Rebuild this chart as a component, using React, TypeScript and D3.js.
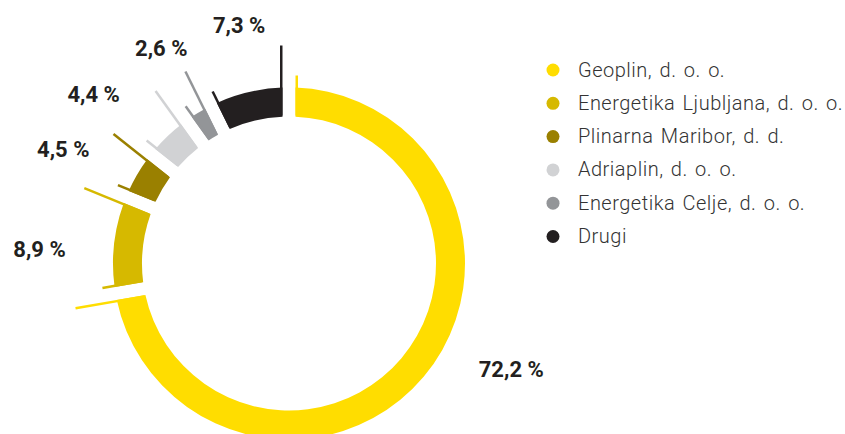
import * as d3 from 'd3';

// market shares, clockwise from 12 o'clock
const companies = [
    'Geoplin, d. o. o.',
    'Energetika Ljubljana, d. o. o.',
    'Plinarna Maribor, d. d.',
    'Adriaplin, d. o. o.',
    'Energetika Celje, d. o. o.',
    'Drugi'
];
const shares = [72.2, 8.9, 4.5, 4.4, 2.6, 7.3];
const shareLabels = ['72,2 %', '8,9 %', '4,5 %', '4,4 %', '2,6 %', '7,3 %'];
const colors = ['#ffdd00', '#d6b900', '#9a8000', '#d1d2d4', '#939598', '#231f20'];

// small label tweaks relative to the mid-angle anchor
const labelNudge = [[31, -55], [-1, 13], [-10, 12], [-23, 12], [1, -1], [7, 5]];

const W = 845, H = 434;
const cx = 289, cy = 263.5;
const rOuter = 176, rInner = 147;
const gap = 13;           // gap width between slices, px
const lineW = 2.5;
const shortExt = 12, longExt = 42;
const labelR = 250;

export default function App() {
    const pie = d3.pie<number>().sort(null).value(d => d);
    const arcs = pie(shares);

    const arc = d3.arc<d3.PieArcDatum<number>>()
        .innerRadius(rInner)
        .outerRadius(rOuter)
        .padAngle(gap / rOuter)
        .padRadius(rOuter);

    // thin line running along one slice edge and past the outer rim
    const edgeLine = (theta: number, side: number, ext: number) => {
        const ux = Math.sin(theta), uy = -Math.cos(theta);
        const tx = Math.cos(theta), ty = Math.sin(theta);
        const off = side * (gap / 2 + lineW / 2);
        const p = (r: number) => [cx + r * ux + off * tx, cy + r * uy + off * ty];
        const a = p(rInner + 1), b = p(rOuter + ext);
        return { x1: a[0], y1: a[1], x2: b[0], y2: b[1] };
    };

    const legendY = d3.scaleLinear().domain([0, 1]).range([70, 103.3]);

    return (
        <svg width={W} height={H} style={{ position: 'absolute', left: 0, top: 0, background: '#fff' }}>
            <g>
                {arcs.map((a, i) => (
                    <path key={'s' + i} d={arc(a) || ''} transform={`translate(${cx},${cy})`} fill={colors[i]} />
                ))}
                {arcs.map((a, i) => {
                    const s = edgeLine(a.startAngle, 1, shortExt);
                    const e = edgeLine(a.endAngle, -1, longExt);
                    return (
                        <g key={'l' + i} stroke={colors[i]} strokeWidth={lineW}>
                            <line {...s} />
                            <line {...e} />
                        </g>
                    );
                })}
                {arcs.map((a, i) => {
                    const mid = (a.startAngle + a.endAngle) / 2;
                    const x = cx + labelR * Math.sin(mid) + labelNudge[i][0];
                    const y = cy - labelR * Math.cos(mid) + labelNudge[i][1];
                    return (
                        <text key={'t' + i} x={x} y={y} dy="0.36em" textAnchor="middle"
                              fontFamily="Roboto, sans-serif" fontWeight={700} fontSize={22} fill="#231f20">
                            {shareLabels[i]}
                        </text>
                    );
                })}
            </g>
            <g>
                {companies.map((c, i) => (
                    <g key={'g' + i} transform={`translate(553,${legendY(i)})`}>
                        <circle r={6.5} fill={colors[i]} />
                        <text x={25} y={6.5} fontFamily="Roboto, sans-serif" fontWeight={300}
                              fontSize={20} letterSpacing={0.5} wordSpacing={2} fill="#333">
                            {c}
                        </text>
                    </g>
                ))}
            </g>
        </svg>
    );
}
